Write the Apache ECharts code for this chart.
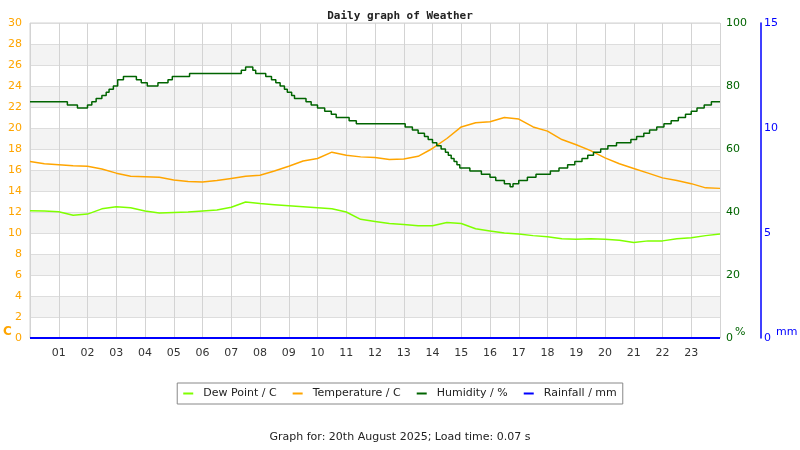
<!DOCTYPE html>
<html>
<head>
<meta charset="utf-8">
<title>Daily graph of Weather</title>
<script src="https://cdn.jsdelivr.net/npm/echarts@6/dist/echarts.min.js"></script>
<style>
  html, body { margin: 0; padding: 0; background: #fff; }
  #chart { width: 800px; height: 450px; }
</style>
</head>
<body>
<div id="chart"></div>
<script>
// half-hourly readings, hours 0..24
var hours = [0,0.5,1,1.5,2,2.5,3,3.5,4,4.5,5,5.5,6,6.5,7,7.5,8,8.5,9,9.5,10,10.5,11,11.5,
             12,12.5,13,13.5,14,14.5,15,15.5,16,16.5,17,17.5,18,18.5,19,19.5,20,20.5,21,21.5,22,22.5,23,23.5,24];
var temperature = [16.8,16.6,16.5,16.4,16.35,16.1,15.7,15.4,15.35,15.3,15.05,14.9,14.85,15.0,15.2,15.4,15.5,15.9,16.35,16.85,17.1,17.7,17.4,17.25,
                   17.2,17.0,17.05,17.3,18.05,19.0,20.1,20.5,20.6,21.0,20.85,20.1,19.7,18.9,18.4,17.85,17.15,16.6,16.15,15.7,15.25,15.0,14.7,14.3,14.25];
var dewPoint = [12.12,12.1,12.02,11.7,11.8,12.3,12.5,12.4,12.1,11.9,11.96,12.0,12.1,12.2,12.45,12.95,12.8,12.7,12.6,12.5,12.4,12.3,12.0,11.3,
                11.1,10.9,10.8,10.7,10.7,11.0,10.9,10.4,10.2,10.0,9.9,9.75,9.65,9.45,9.4,9.45,9.4,9.3,9.1,9.25,9.25,9.45,9.55,9.75,9.9];
// humidity: hour at which the reading changed, and the new value (%)
var humHours = [0,1.3,1.65,2.0,2.15,2.3,2.5,2.65,2.75,2.9,3.05,3.25,3.7,3.87,4.08,4.45,4.8,4.95,5.55,7.35,7.5,7.75,7.85,8.0,8.2,8.4,8.55,8.7,8.85,8.95,
                9.1,9.2,9.6,9.78,10.0,10.25,10.48,10.65,11.1,11.35,13.05,13.3,13.5,13.72,13.85,14.0,14.15,14.3,14.45,14.55,14.65,14.75,14.85,14.95,
                15.3,15.7,16.0,16.2,16.5,16.7,16.8,17.0,17.3,17.6,18.1,18.4,18.7,18.95,19.2,19.4,19.6,19.85,20.1,20.4,20.9,21.1,21.35,21.55,21.8,
                22.05,22.3,22.55,22.8,23.0,23.2,23.45,23.7,24];
var humidity = [75,74,73,74,75,76,77,78,79,80,82,83,82,81,80,81,82,83,84,85,86,85,84,84,83,82,81,80,79,78,
                77,76,75,74,73,72,71,70,69,68,67,66,65,64,63,62,61,60,59,58,57,56,55,54,
                53,52,51,50,49,48,49,50,51,52,53,54,55,56,57,58,59,60,61,62,63,64,65,66,67,
                68,69,70,71,72,73,74,75,75];
var rainHours = [0,24];
var rainfall = [0,0];
var hourLabels = ['01','02','03','04','05','06','07','08','09','10','11','12',
                  '13','14','15','16','17','18','19','20','21','22','23'];

function pairs(xs, ys) {
  return xs.map(function (x, i) { return [x, ys[i]]; });
}

var font = 'DejaVu Sans';
var chart = echarts.init(document.getElementById('chart'));
chart.setOption({
  animation: false,
  title: {
    text: 'Daily graph of Weather',
    left: 'center',
    top: 6,
    textStyle: { fontFamily: 'DejaVu Sans Mono', fontWeight: 'bold', fontSize: 11, color: '#222' }
  },
  grid: {
    left: 30, right: 80, top: 23, bottom: 112,
    show: true, borderColor: '#d3d3d3', borderWidth: 1
  },
  legend: {
    top: 383, left: 'center',
    padding: [5, 6],
    borderColor: '#888', borderWidth: 1,
    icon: 'rect', itemWidth: 10, itemHeight: 2, itemGap: 16,
    textStyle: { fontFamily: font, fontSize: 11, color: '#222', padding: [0, 0, 0, 5] },
    data: ['Dew Point / C', 'Temperature / C', 'Humidity / %', 'Rainfall / mm']
  },
  xAxis: {
    type: 'value', min: 0, max: 24, interval: 1,
    axisLine: { show: false },
    axisTick: { show: false },
    axisLabel: {
      fontFamily: font, fontSize: 11, color: '#333', margin: 10,
      formatter: function (v) { return hourLabels[v - 1] || ''; }
    },
    splitLine: { show: true, lineStyle: { color: '#d3d3d3' } }
  },
  yAxis: [
    {
      type: 'value', min: 0, max: 30, interval: 2, position: 'left',
      axisLine: { show: false }, axisTick: { show: false },
      axisLabel: { fontFamily: font, fontSize: 11, color: '#ffa500', margin: 8 },
      splitLine: { lineStyle: { color: '#dddddd' } },
      splitArea: { show: true, areaStyle: { color: ['#ffffff', '#f3f3f3'] } }
    },
    {
      type: 'value', min: 0, max: 100, interval: 20, position: 'right',
      axisLine: { show: false }, axisTick: { show: false },
      axisLabel: { fontFamily: font, fontSize: 11, color: '#006400', margin: 6 },
      splitLine: { show: false }
    },
    {
      type: 'value', min: 0, max: 15, interval: 5, position: 'right', offset: 41,
      axisLine: { show: true, lineStyle: { color: '#0000ff', width: 1.5 } },
      axisTick: { show: false },
      axisLabel: { fontFamily: font, fontSize: 11, color: '#0000ff', margin: 3 },
      splitLine: { show: false }
    }
  ],
  graphic: [
    { type: 'text', left: 3, top: 326, style: { text: 'C', fill: '#ffa500', font: 'bold 12px DejaVu Sans' } },
    { type: 'text', left: 735, top: 327, style: { text: '%', fill: '#006400', font: '11px DejaVu Sans' } },
    { type: 'text', left: 776, top: 327, style: { text: 'mm', fill: '#0000ff', font: '11px DejaVu Sans' } },
    { type: 'text', left: 'center', top: 432, style: { text: 'Graph for: 20th August 2025; Load time: 0.07 s', fill: '#222', font: '11px DejaVu Sans' } }
  ],
  series: [
    {
      name: 'Dew Point / C', type: 'line', yAxisIndex: 0, showSymbol: false,
      itemStyle: { color: '#7fff00' }, lineStyle: { color: '#7fff00', width: 1.5 },
      data: pairs(hours, dewPoint)
    },
    {
      name: 'Temperature / C', type: 'line', yAxisIndex: 0, showSymbol: false,
      itemStyle: { color: '#ffa500' }, lineStyle: { color: '#ffa500', width: 1.5 },
      data: pairs(hours, temperature)
    },
    {
      name: 'Humidity / %', type: 'line', yAxisIndex: 1, showSymbol: false, step: 'end',
      itemStyle: { color: '#006400' }, lineStyle: { color: '#006400', width: 1.5 },
      data: pairs(humHours, humidity)
    },
    {
      name: 'Rainfall / mm', type: 'line', yAxisIndex: 2, showSymbol: false,
      itemStyle: { color: '#0000ff' }, lineStyle: { color: '#0000ff', width: 2 },
      data: pairs(rainHours, rainfall)
    }
  ]
});
</script>
</body>
</html>
